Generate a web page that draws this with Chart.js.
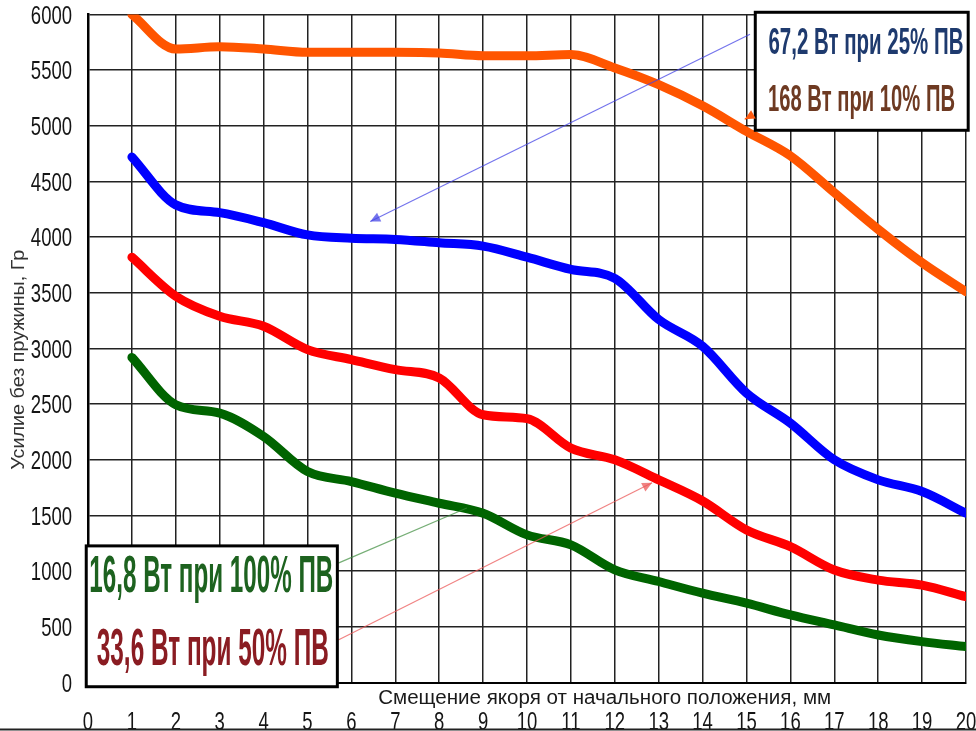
<!DOCTYPE html>
<html>
<head>
<meta charset="utf-8">
<script src="https://cdn.jsdelivr.net/npm/chart.js@4.4.1/dist/chart.umd.min.js"></script>
<style>
    html, body { margin: 0; padding: 0; background: #fff; }
    #wrap { width: 976px; height: 731px; position: relative; }
</style>
</head>
<body>
<div id="wrap"><canvas id="chart"></canvas></div>
<script>
// displacement of the armature, mm
const displacement = [1, 2, 3, 4, 5, 6, 7, 8, 9, 10, 11, 12, 13, 14, 15, 16, 17, 18, 19, 20];

// force without spring, g
const force168 = [6000, 5690, 5710, 5690, 5660, 5660, 5660, 5655, 5630, 5630, 5640, 5520, 5370, 5180, 4950, 4730, 4400, 4070, 3770, 3510];
const force67 = [4720, 4290, 4220, 4130, 4020, 3990, 3980, 3950, 3920, 3820, 3710, 3630, 3260, 3020, 2600, 2330, 2000, 1820, 1715, 1520];
const force33 = [3820, 3470, 3290, 3200, 2990, 2900, 2810, 2735, 2405, 2370, 2105, 2000, 1820, 1630, 1370, 1220, 1010, 920, 875, 770];
const force16 = [2920, 2495, 2420, 2210, 1895, 1805, 1700, 1610, 1520, 1326, 1236, 1012, 907, 802, 712, 607, 517, 427, 367, 322];

const seriesLabels = ['168 Вт при 10% ПВ', '67,2 Вт при 25% ПВ', '33,6 Вт при 50% ПВ', '16,8 Вт при 100% ПВ'];
const xTitle = 'Смещение якоря от начального положения, мм';
const yTitle = 'Усилие без пружины, Гр';

const sans = '"Liberation Sans", Arial, sans-serif';

const toPoints = (ys) => displacement.map((x, i) => ({ x: x, y: ys[i] }));

// draws text squeezed horizontally to a given width (the source uses a narrow face)
function fitText(ctx, text, x, baseline, width, size, color, weight) {
    ctx.save();
    ctx.font = (weight || 'normal') + ' ' + size + 'px ' + sans;
    const w = ctx.measureText(text).width;
    ctx.translate(x, baseline);
    ctx.scale(width / w, 1);
    ctx.fillStyle = color;
    ctx.textBaseline = 'alphabetic';
    ctx.textAlign = 'left';
    ctx.fillText(text, 0, 0);
    ctx.restore();
}

function tickText(ctx, text, x, baseline, align) {
    ctx.save();
    ctx.font = '25px ' + sans;
    ctx.translate(x, baseline);
    ctx.scale(0.74, 1);
    ctx.fillStyle = '#151515';
    ctx.textAlign = align;
    ctx.textBaseline = 'alphabetic';
    ctx.fillText(text, 0, 0);
    ctx.restore();
}

function arrow(ctx, x1, y1, x2, y2, color, head) {
    ctx.save();
    ctx.strokeStyle = color;
    ctx.fillStyle = color;
    ctx.lineWidth = 1.2;
    ctx.beginPath();
    ctx.moveTo(x1, y1);
    ctx.lineTo(x2, y2);
    ctx.stroke();
    if (head) {
        const a = Math.atan2(y2 - y1, x2 - x1);
        const len = 11, spread = 0.45;
        ctx.beginPath();
        ctx.moveTo(x2, y2);
        ctx.lineTo(x2 - len * Math.cos(a - spread), y2 - len * Math.sin(a - spread));
        ctx.lineTo(x2 - len * Math.cos(a + spread), y2 - len * Math.sin(a + spread));
        ctx.closePath();
        ctx.fill();
    }
    ctx.restore();
}

function box(ctx, x1, y1, x2, y2) {
    ctx.save();
    ctx.fillStyle = '#fff';
    ctx.fillRect(x1, y1, x2 - x1, y2 - y1);
    ctx.strokeStyle = '#000';
    ctx.lineWidth = 3;
    ctx.strokeRect(x1, y1, x2 - x1, y2 - y1);
    ctx.restore();
}

const decorations = {
    id: 'decorations',
    beforeDraw(chart) {
        const ctx = chart.ctx;
        ctx.save();
        ctx.fillStyle = '#fff';
        ctx.fillRect(0, 0, chart.width, chart.height);
        ctx.restore();
    },
    afterDraw(chart) {
        const ctx = chart.ctx;
        const xs = chart.scales.x, ys = chart.scales.y;
        const px = (v) => xs.getPixelForValue(v);
        const py = (v) => ys.getPixelForValue(v);

        // tick labels
        ys.ticks.forEach(t => tickText(ctx, String(t.value), xs.left - 16, py(t.value) + 9, 'right'));
        xs.ticks.forEach(t => tickText(ctx, String(t.value), px(t.value), ys.bottom + 47, 'center'));

        // axis titles
        fitText(ctx, xTitle, px(6.61), py(0) + 21, 453, 20, '#1a1a1a');
        ctx.save();
        ctx.translate(px(0) - 70, py(2900));
        ctx.rotate(-Math.PI / 2);
        fitText(ctx, yTitle, -110, 6, 220, 18, '#333');
        ctx.restore();

        // leader lines
        arrow(ctx, px(15.08), py(5823), px(6.43), py(4141), 'rgba(70, 70, 230, 0.75)', true);
        arrow(ctx, px(5.7), py(1072), px(8.63), py(1567), 'rgba(60, 140, 60, 0.7)', false);
        arrow(ctx, px(5.7), py(382), px(12.85), py(1794), 'rgba(235, 90, 90, 0.75)', true);

        // top-right legend box
        box(ctx, px(15.2), py(6020), px(20.05), py(4960));
        arrow(ctx, px(15.12), py(5095), px(14.96), py(5060), '#ff5a10', true);
        fitText(ctx, seriesLabels[1], px(15.5), py(5643), 195, 37, '#1e3a6e', 'bold');
        fitText(ctx, seriesLabels[0], px(15.49), py(5133), 187, 37, '#6e3a22', 'bold');

        // bottom-left legend box
        box(ctx, px(-0.04), py(1227), px(5.68), py(-38));
        fitText(ctx, seriesLabels[3], px(0.03), py(816), 244, 51, '#1d621f', 'bold');
        fitText(ctx, seriesLabels[2], px(0.2), py(157), 232, 51, '#8a1c22', 'bold');

        // frame line at the bottom edge
        ctx.save();
        ctx.strokeStyle = '#222';
        ctx.lineWidth = 2;
        ctx.beginPath();
        ctx.moveTo(0, chart.height - 1.5);
        ctx.lineTo(chart.width, chart.height - 1.5);
        ctx.stroke();
        ctx.restore();
    }
};

const lineStyle = {
    borderWidth: 9,
    pointRadius: 0,
    fill: false,
    cubicInterpolationMode: 'monotone',
    borderCapStyle: 'round',
    borderJoinStyle: 'round',
};

new Chart(document.getElementById('chart'), {
    type: 'line',
    data: {
        datasets: [
            { label: seriesLabels[0], data: toPoints(force168), borderColor: '#ff5500', ...lineStyle },
            { label: seriesLabels[1], data: toPoints(force67), borderColor: '#0000ff', ...lineStyle },
            { label: seriesLabels[2], data: toPoints(force33), borderColor: '#ff0000', ...lineStyle },
            { label: seriesLabels[3], data: toPoints(force16), borderColor: '#006400', ...lineStyle },
        ],
    },
    options: {
        responsive: true,
        maintainAspectRatio: false,
        animation: false,
        layout: { padding: { top: 14.5, right: 10, left: 0, bottom: 0 } },
        plugins: {
            legend: { display: false },
            tooltip: { enabled: false },
        },
        scales: {
            x: {
                type: 'linear',
                min: 0,
                max: 20,
                ticks: { stepSize: 1, display: false },
                grid: { color: '#222', lineWidth: 1.5, drawTicks: false },
                border: { color: '#000', width: 2 },
                afterFit(scale) {
                    scale.height = 48.5;
                    scale.paddingLeft = 0;
                    scale.paddingRight = 0;
                },
            },
            y: {
                min: 0,
                max: 6000,
                ticks: { stepSize: 500, display: false },
                grid: { color: '#222', lineWidth: 1.5, drawTicks: false },
                border: { color: '#000', width: 2.5 },
                afterFit(scale) {
                    scale.width = 88;
                    scale.paddingTop = 0;
                    scale.paddingBottom = 0;
                },
            },
        },
    },
    plugins: [decorations],
});
</script>
</body>
</html>
